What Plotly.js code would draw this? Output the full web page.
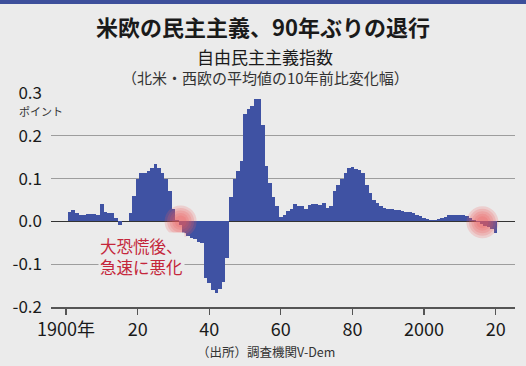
<!DOCTYPE html>
<html>
<head>
<meta charset="utf-8">
<script src="https://cdn.plot.ly/plotly-3.0.1.min.js"></script>
<style>
html,body{margin:0;padding:0;background:#ebebeb;}
#chart{width:526px;height:366px;}
</style>
</head>
<body>
<div id="chart"></div>
<script>
const years = [];
for (let y = 1901; y <= 2020; y++) years.push(y);

const values = [
  // 1901-1917
  0.022, 0.027, 0.019, 0.016, 0.015, 0.018, 0.018, 0.018, 0.016, 0.040,
  0.022, 0.019, 0.019, 0.008, -0.008, 0.000, 0.000,
  // 1918-1931
  0.020, 0.060, 0.100, 0.113, 0.113, 0.118, 0.124, 0.133, 0.124, 0.114,
  0.098, 0.070, 0.030, 0.004,
  // 1932-1945
  -0.008, -0.028, -0.035, -0.038, -0.042, -0.047, -0.050, -0.133, -0.145, -0.160,
  -0.167, -0.157, -0.142, -0.085,
  // 1946-1959
  0.057, 0.100, 0.117, 0.140, 0.250, 0.263, 0.270, 0.285, 0.285, 0.225,
  0.130, 0.090, 0.058, 0.035,
  // 1960-1973
  0.011, 0.015, 0.025, 0.030, 0.040, 0.035, 0.035, 0.030, 0.038, 0.040,
  0.040, 0.038, 0.042, 0.032,
  // 1974-1989
  0.035, 0.072, 0.085, 0.100, 0.113, 0.125, 0.126, 0.123, 0.120, 0.114,
  0.085, 0.066, 0.050, 0.043, 0.036, 0.031,
  // 1990-2005
  0.029, 0.028, 0.027, 0.026, 0.025, 0.023, 0.021, 0.019, 0.016, 0.013,
  0.009, 0.006, 0.004, 0.004, 0.005, 0.008,
  // 2006-2020
  0.011, 0.014, 0.016, 0.016, 0.016, 0.015, 0.012, 0.008, 0.003, -0.002,
  -0.006, -0.010, -0.014, -0.018, -0.027
];

const xTickVals = [1900, 1920, 1940, 1960, 1980, 2000, 2020];
const xTickText = ["1900年", "20", "40", "60", "80", "2000", "20"];
const yTickVals = [-0.2, -0.1, 0.0, 0.1, 0.2, 0.3];
const yTickText = ["-0.2", "-0.1", "0.0", "0.1", "0.2", "0.3"];

const highlightX = [1932, 2016.3];
const highlightY = [0.0, -0.002];

const titleText = "米欧の民主主義、90年ぶりの退行";
const subtitleText = "自由民主主義指数";
const noteText = "（北米・西欧の平均値の10年前比変化幅）";
const unitText = "ポイント";
const calloutText = "大恐慌後、<br>急速に悪化";
const sourceText = "（出所）調査機関V-Dem";

const FONT = "'Noto Sans CJK JP', 'Noto Sans', sans-serif";

const traces = [
  {
    type: "bar",
    x: years,
    y: values,
    width: 1,
    marker: {color: "#3f52a3", line: {width: 0}},
    hoverinfo: "skip"
  }
];

// soft red glow: concentric translucent discs
const glowSizes = [32, 27, 22, 17, 12];
glowSizes.forEach(function (s) {
  traces.push({
    type: "scatter",
    mode: "markers",
    x: highlightX,
    y: highlightY,
    cliponaxis: false,
    marker: {size: s, color: "rgba(238,92,92,0.2)", line: {width: 0}},
    hoverinfo: "skip"
  });
});

const layout = {
  width: 526,
  height: 366,
  margin: {l: 51, r: 11, t: 93, b: 59},
  paper_bgcolor: "#ebebeb",
  plot_bgcolor: "#ebebeb",
  showlegend: false,
  bargap: 0,
  font: {family: FONT, color: "#222"},
  title: {
    text: "<b>" + titleText + "</b>",
    font: {family: FONT, size: 22, color: "#1a1a1a"},
    x: 0.5, xanchor: "center",
    yref: "container", y: 1 - 28/366, yanchor: "middle"
  },
  shapes: [
    {
      type: "rect", xref: "paper", yref: "paper",
      x0: -51/464, x1: 475/464, y0: 1 + 89/214, y1: 1 + 94/214,
      fillcolor: "#3d4f9b", line: {width: 0}, layer: "above"
    }
  ],
  xaxis: {
    range: [1895.8, 2025.4],
    tickvals: xTickVals,
    ticktext: xTickText,
    ticks: "outside",
    ticklen: 6,
    tickwidth: 1.2,
    tickcolor: "#555",
    showline: true,
    linecolor: "#555",
    linewidth: 1.5,
    showgrid: false,
    zeroline: false,
    tickfont: {family: FONT, size: 18, color: "#1a1a1a"},
    fixedrange: true
  },
  yaxis: {
    range: [-0.2, 0.3],
    tickvals: yTickVals,
    ticktext: yTickText,
    ticks: "",
    showgrid: true,
    gridcolor: "#9d9d9d",
    gridwidth: 1,
    zeroline: true,
    zerolinecolor: "#333",
    zerolinewidth: 1.3,
    showline: false,
    ticklabelstandoff: 8,
    tickfont: {family: FONT, size: 17, color: "#1a1a1a"},
    fixedrange: true
  },
  annotations: [
    {
      text: subtitleText, xref: "paper", yref: "paper",
      x: 0.4616, y: (307 - 57) / 214, xanchor: "center", yanchor: "middle",
      showarrow: false, font: {family: FONT, size: 17, color: "#1a1a1a"}
    },
    {
      text: noteText, xref: "paper", yref: "paper",
      x: 0.4616, y: (307 - 77) / 214, xanchor: "center", yanchor: "middle",
      showarrow: false, font: {family: FONT, size: 15, color: "#333"}
    },
    {
      text: unitText, xref: "paper", yref: "paper",
      x: (17 - 51) / 464, y: (307 - 111) / 214, xanchor: "left", yanchor: "middle",
      showarrow: false, font: {family: FONT, size: 11, color: "#333"}
    },
    {
      text: calloutText, xref: "x", yref: "y",
      x: 1909, y: -0.082, xanchor: "left", yanchor: "middle", align: "left",
      showarrow: false, bgcolor: "#ebebeb", borderpad: 1,
      font: {family: FONT, size: 16.5, color: "#c4273b"}
    },
    {
      text: sourceText, xref: "paper", yref: "paper",
      x: (266 - 51) / 464, y: (307 - 351) / 214, xanchor: "center", yanchor: "middle",
      showarrow: false, font: {family: FONT, size: 12.5, color: "#333"}
    }
  ]
};

Plotly.newPlot("chart", traces, layout, {displayModeBar: false, staticPlot: true});
</script>
</body>
</html>
